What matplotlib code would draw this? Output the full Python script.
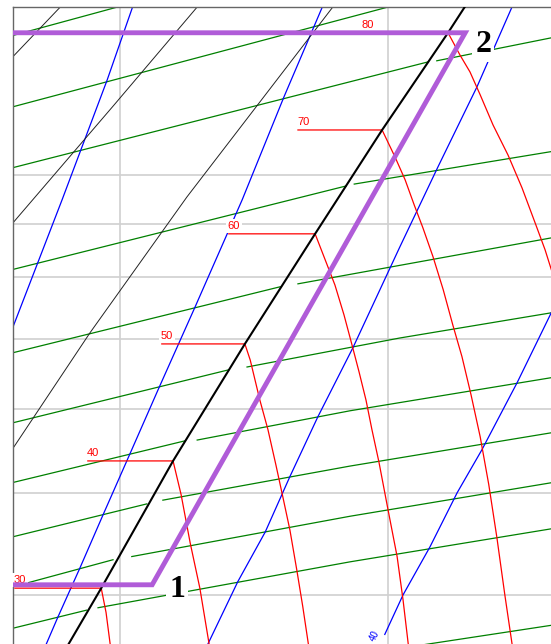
import matplotlib.pyplot as plt
from matplotlib.ticker import NullLocator

# R600a section of a log p-h chart, h in kJ/kg, p in bar

# saturation states along the isotherms
t_sat = [30, 40, 50, 60, 70, 80]
p_sat = [4.06, 5.36, 6.92, 8.80, 11.04, 13.65]
h_iso_start = [580.4, 594.0, 607.8, 620.3, 633.2, 645.2]
h_vap = [596.5, 609.9, 623.3, 636.4, 648.9, 661.2]

# saturated vapour line
h_satline = [589.8, 596.5, 609.9, 623.3, 636.4, 648.9, 661.2, 665.3]
p_satline = [3.55, 4.06, 5.36, 6.92, 8.80, 11.04, 13.65, 14.70]

# superheated branches of the isotherms
sh30_h = [597.4, 598.3]
sh30_p = [3.85, 3.55]
sh40_h = [611.4, 613.1, 614.9, 616.8]
sh40_p = [4.98, 4.48, 4.06, 3.55]
sh50_h = [624.3, 626.1, 627.6, 629.1, 630.4, 631.7, 633.0, 634.1, 635.3]
sh50_p = [6.68, 6.12, 5.74, 5.31, 4.95, 4.61, 4.22, 3.90, 3.55]
sh60_h = [638.3, 640.1, 641.8, 643.3, 644.6, 645.9, 647.0, 648.3, 650.0, 651.7, 652.8, 653.9]
sh60_p = [8.31, 7.87, 7.37, 6.90, 6.51, 6.12, 5.74, 5.35, 4.82, 4.35, 3.96, 3.55]
sh70_h = [651.3, 653.2, 654.9, 656.5, 658.4, 660.3, 662.1, 663.8, 665.5, 667.2, 668.8, 670.3, 671.8, 673.3]
sh70_p = [10.41, 9.90, 9.37, 8.92, 8.37, 7.79, 7.21, 6.73, 6.19, 5.65, 5.09, 4.54, 4.00, 3.55]
sh80_h = [663.4, 665.3, 667.2, 669.6, 672.4, 675.0, 677.6, 679.3, 680.8]
sh80_p = [13.01, 12.53, 11.92, 11.16, 10.45, 9.73, 8.97, 8.50, 8.04]
sh_h = [sh30_h, sh40_h, sh50_h, sh60_h, sh70_h, sh80_h]
sh_p = [sh30_p, sh40_p, sh50_p, sh60_p, sh70_p, sh80_p]

# isochores inside the two-phase dome
wet_h = [[579.1, 604.3], [579.1, 654.9], [579.1, 657.5], [579.1, 642.2], [579.1, 629.9],
         [579.1, 620.3], [579.1, 612.1], [579.1, 605.0], [579.1, 598.7], [579.1, 593.8]]
wet_p = [[13.53, 14.66], [11.58, 14.66], [10.14, 12.81], [8.12, 9.77], [6.77, 7.84],
         [5.81, 6.54], [5.10, 5.60], [4.53, 4.88], [4.06, 4.32], [3.71, 3.87]]

# isochores in the superheated region
dry_h = [[659.1, 681.4], [643.7, 681.4], [633.2, 681.4], [623.7, 652.2, 681.4],
         [614.4, 642.9, 681.4], [608.0, 642.9, 681.4], [602.2, 642.9, 681.4],
         [595.9, 642.9, 681.4], [652.2, 681.4]]
dry_p = [[12.84, 13.53], [9.81, 10.55], [7.89, 8.74], [6.58, 7.01, 7.42],
         [5.61, 5.98, 6.44], [4.92, 5.30, 5.71], [4.35, 4.75, 5.12],
         [3.89, 4.30, 4.63], [3.56, 3.75]]

# isentropes
s_h = [[579.1, 589.2, 597.6, 602.8],
       [585.8, 588.4, 592.5, 596.8, 601.9, 607.1, 614.0, 622.8, 630.6, 638.3],
       [615.9, 622.0, 627.1, 631.7, 636.9, 643.5, 652.2, 659.3, 666.6, 673.7],
       [649.4, 652.8, 657.8, 662.9, 667.5, 674.1, 681.2]]
s_p = [[6.98, 9.48, 12.31, 14.66],
       [3.55, 3.81, 4.24, 4.76, 5.45, 6.26, 7.50, 9.48, 11.87, 14.66],
       [3.55, 4.12, 4.59, 5.18, 5.90, 6.87, 8.55, 10.18, 12.13, 14.66],
       [3.67, 4.00, 4.44, 5.00, 5.49, 6.36, 7.54]]
s_label = "40"

# vapour quality lines
q_h = [[579.1, 590.1], [579.1, 598.9, 615.5], [579.1, 594.4, 612.5, 640.7]]
q_p = [[12.81, 14.66], [8.90, 11.66, 14.66], [5.42, 7.09, 9.54, 14.66]]

# heat pump cycle: evaporation -> 1 -> compression -> 2 -> condensation
h_cycle = [579.0, 606.0, 664.4, 579.0]
p_cycle = [4.09, 4.09, 13.65, 13.65]

fig = plt.figure(figsize=(5.51, 6.44), dpi=100)
ax = fig.add_axes([13 / 551, 0, 1 - 13 / 551, 1 - 7 / 644])
ax.set_yscale("log")
ax.set_xlim(580.04, 680.41)
ax.set_ylim(3.594, 14.44)

ax.set_xticks([600, 650])
ax.set_yticks([4, 5, 6, 7, 8, 9, 10])
ax.yaxis.set_minor_locator(NullLocator())
ax.tick_params(length=0, labelleft=False, labelbottom=False)
ax.grid(True, color="#d0d0d0", lw=1.2)
ax.set_axisbelow(True)
for side in ["right", "bottom"]:
    ax.spines[side].set_visible(False)
for side in ["left", "top"]:
    ax.spines[side].set_color("#666666")
    ax.spines[side].set_linewidth(1.0)

for hh, pp in zip(wet_h, wet_p):
    ax.plot(hh, pp, color="#008000", lw=0.9, zorder=2)
for hh, pp in zip(dry_h, dry_p):
    ax.plot(hh, pp, color="#008000", lw=0.9, zorder=2)
for hh, pp in zip(s_h, s_p):
    ax.plot(hh, pp, color="#0000ff", lw=0.9, zorder=2)
for hh, pp in zip(q_h, q_p):
    ax.plot(hh, pp, color="#222222", lw=0.7, zorder=2)

lbl_box = dict(boxstyle="square,pad=0.15", fc="white", ec="none")
for t, ps, h0, hv, th, tp in zip(t_sat, p_sat, h_iso_start, h_vap, sh_h, sh_p):
    ax.plot([h0, hv] + th, [ps, ps] + tp, color="#ff0000", lw=0.9, zorder=3)
    ax.annotate(str(t), (h0, ps), xytext=(-1, 3), textcoords="offset pixels",
                ha="left", va="bottom", color="#ff0000", fontsize=8,
                family="Liberation Sans", bbox=lbl_box, zorder=5)

# entropy label sits just past the lower end of its isentrope
ax.annotate(s_label, (s_h[3][0], s_p[3][0]), xytext=(-10, -1), textcoords="offset pixels",
            ha="center", va="center", rotation=63, color="#0000ff", fontsize=7,
            family="Liberation Sans", zorder=5)

ax.plot(h_satline, p_satline, color="black", lw=1.5, zorder=4)
ax.plot(h_cycle, p_cycle, color="#b05cd8", lw=3.5, zorder=6, solid_joinstyle="miter")

num_box = dict(boxstyle="square,pad=0.1", fc="white", ec="none")
ax.annotate("1", (h_cycle[1], p_cycle[1]), xytext=(25, -12), textcoords="offset pixels",
            ha="center", va="baseline", fontsize=23, fontweight="bold",
            family="Liberation Serif", bbox=num_box, zorder=7)
ax.annotate("2", (h_cycle[2], p_cycle[2]), xytext=(18, -19), textcoords="offset pixels",
            ha="center", va="baseline", fontsize=23, fontweight="bold",
            family="Liberation Serif", bbox=num_box, zorder=7)

fig.savefig("out.png", dpi=100)
